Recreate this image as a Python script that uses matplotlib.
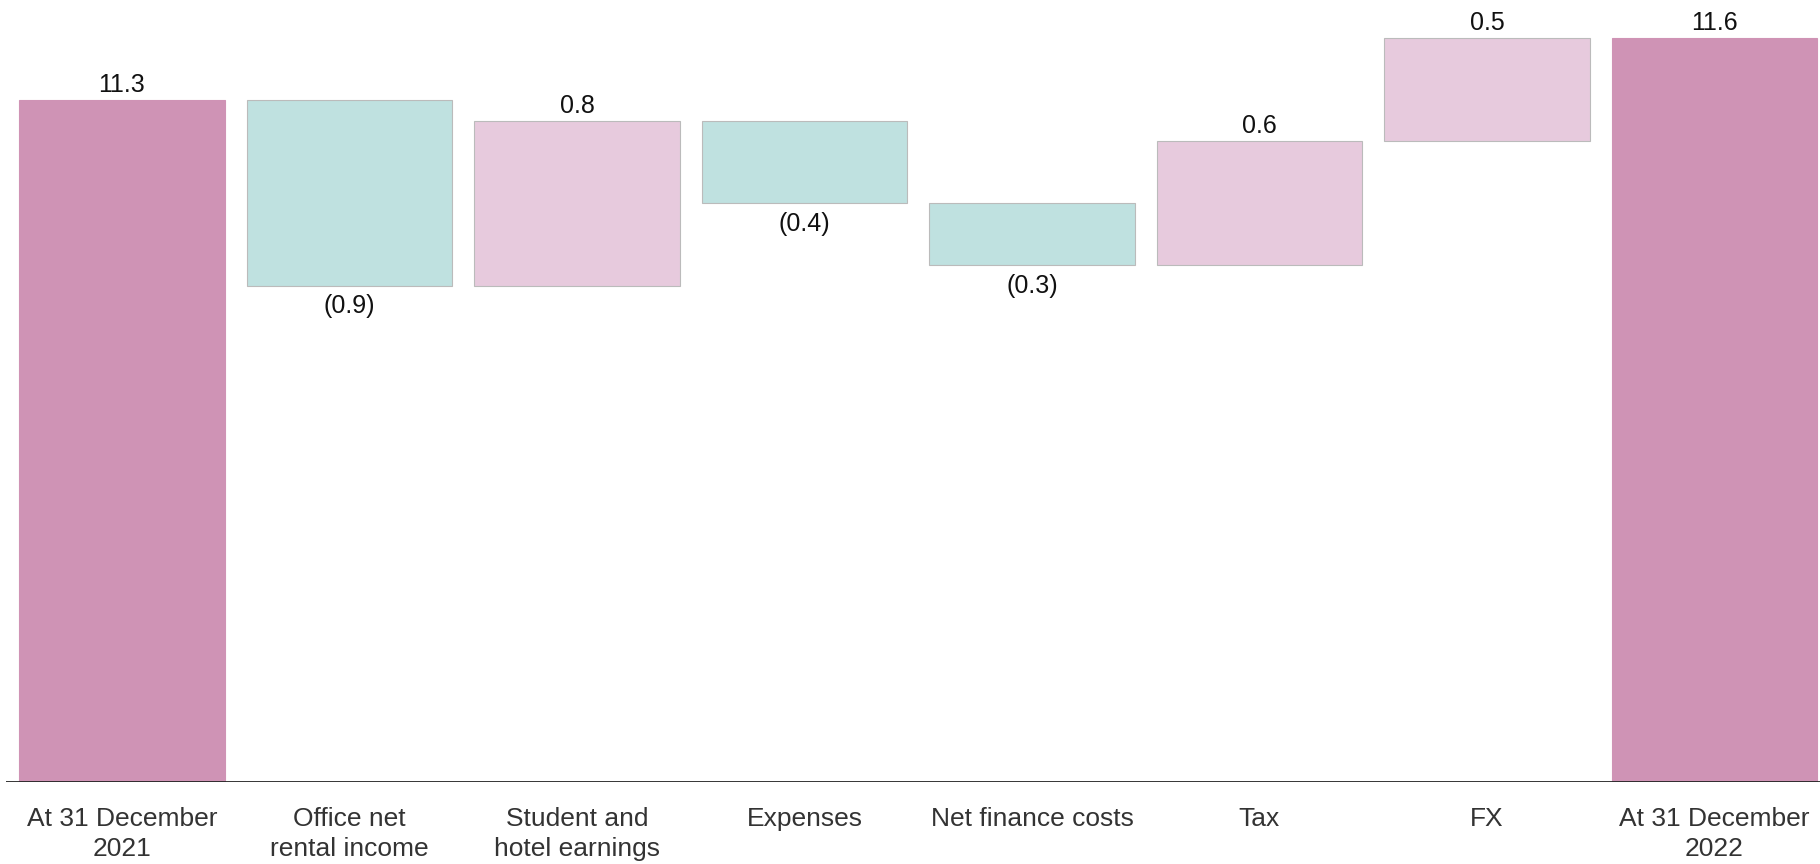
import matplotlib
matplotlib.use("Agg")
import matplotlib.pyplot as plt

categories = ["At 31 December\n2021", "Office net\nrental income", "Student and\nhotel earnings",
              "Expenses", "Net finance costs", "Tax", "FX", "At 31 December\n2022"]
values = [11.3, -0.9, 0.8, -0.4, -0.3, 0.6, 0.5, 11.6]
labels = ["11.3", "(0.9)", "0.8", "(0.4)", "(0.3)", "0.6", "0.5", "11.6"]
kinds = ["total", "delta", "delta", "delta", "delta", "delta", "delta", "total"]

c_total = "#CF93B5"
c_neg = "#BFE1E0"
c_pos = "#E7CADD"

plt.rcParams['font.family'] = ['Liberation Sans', 'DejaVu Sans']

W, H = 1820, 864
fig = plt.figure(figsize=(W / 100, H / 100), dpi=100)
base_px = 782
ax = fig.add_axes([6 / W, 1 - base_px / H, 1 - 6 / W, base_px / H])

y0 = 8.0
scale = 206.7
ax.set_ylim(y0, y0 + base_px / scale)
spacing = 227.5
ax.set_xlim(-116 / spacing, (W - 122) / spacing)

running = 0.0
for i, (v, lab, k) in enumerate(zip(values, labels, kinds)):
    if k == "total":
        bottom, height = y0, v - y0
        color = c_total
        running = v
        top = v
        ec = c_total
    else:
        start = running
        end = running + v
        bottom, height = min(start, end), abs(v)
        top = max(start, end)
        color = c_pos if v > 0 else c_neg
        ec = "#BBBBBB"
        running = end
    ax.bar(i, height, bottom=bottom, width=0.905, color=color, edgecolor=ec,
           linewidth=0.8, zorder=2)
    if k == "total" or v > 0:
        ax.annotate(lab, (i, top), xytext=(0, 2), textcoords="offset points",
                    ha="center", va="bottom", fontsize=18, color="#111111")
    else:
        ax.annotate(lab, (i, bottom), xytext=(0, -6), textcoords="offset points",
                    ha="center", va="top", fontsize=18, color="#111111")

ax.axhline(y0, color="#222222", linewidth=2, zorder=3)
for s in ["top", "right", "left", "bottom"]:
    ax.spines[s].set_visible(False)
ax.set_yticks([])
ax.set_xticks(range(len(categories)))
ax.set_xticklabels(categories, fontsize=19, color="#333333", linespacing=1.3)
ax.tick_params(axis="x", length=0, pad=18)

fig.savefig("out.png", dpi=100)
